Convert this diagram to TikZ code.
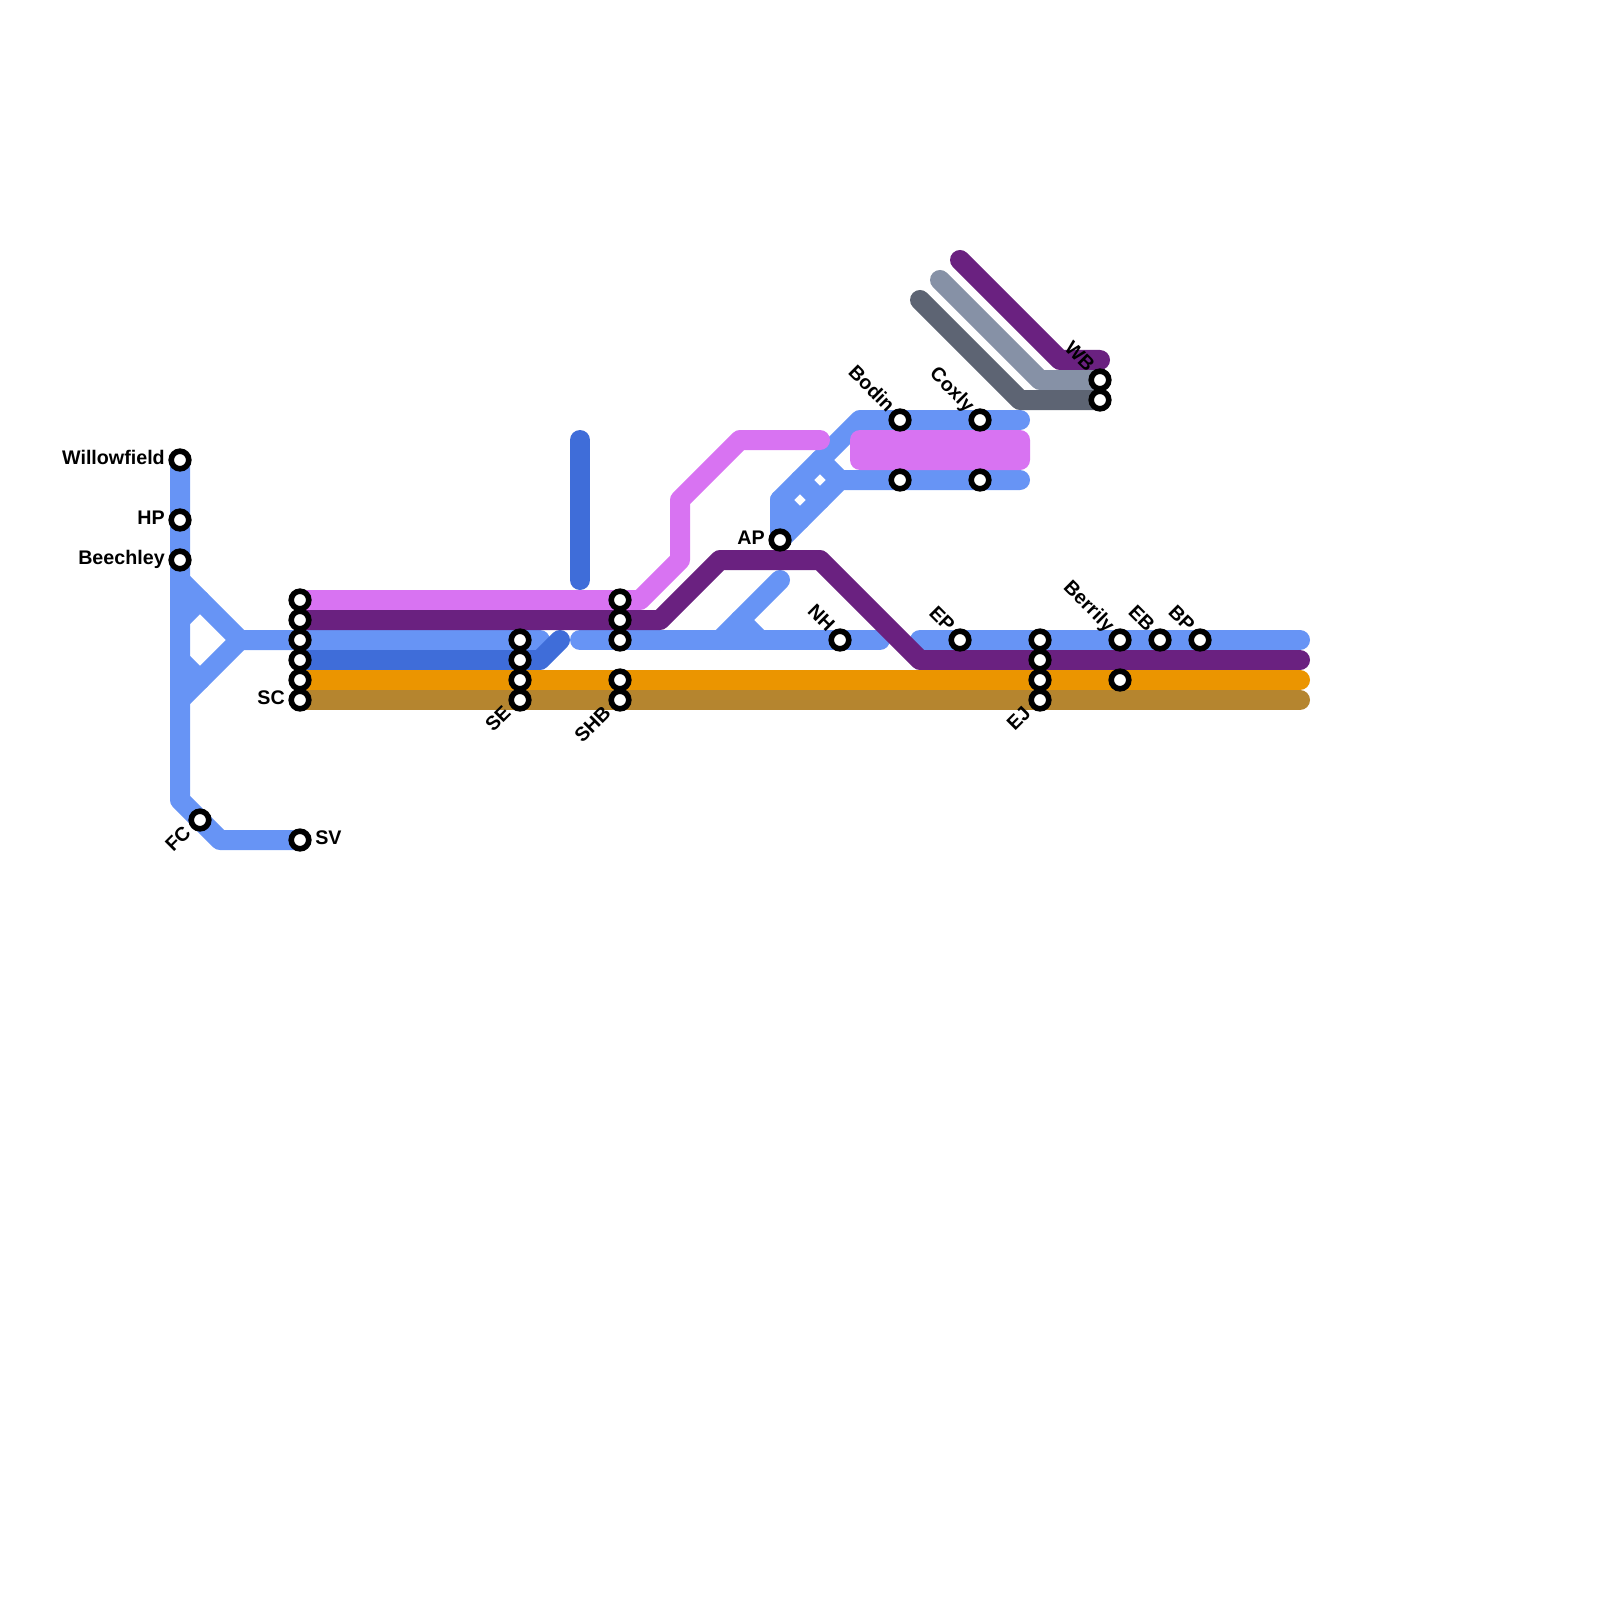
\documentclass[tikz,border=0pt]{standalone}
\usepackage{fontspec}
\setmainfont{Liberation Sans}
\usetikzlibrary{positioning,backgrounds}
\definecolor{lightblue}{HTML}{6794F5}
\definecolor{darkblue}{HTML}{3F6DD9}
\definecolor{pinkline}{HTML}{D873F2}
\definecolor{purpleline}{HTML}{6A2180}
\definecolor{orangeline}{HTML}{EB9500}
\definecolor{brownline}{HTML}{B5852F}
\definecolor{greyline}{HTML}{8691A6}
\definecolor{slateline}{HTML}{5D6473}
\tikzset{
  route/.style={line width=5mm,line cap=round,line join=round},
  station/.style={circle,draw=black,fill=white,line width=1.4mm,minimum size=4.4mm,inner sep=0pt},
  stname/.style={font=\fontsize{14}{16}\selectfont\bfseries,inner sep=0pt,text height=10pt,text depth=3.8pt},
  nameup/.style={stname,anchor=east,rotate=-45},
  namedown/.style={stname,anchor=east,rotate=45}
}
\begin{document}
\begin{tikzpicture}[x=0.25mm,y=-0.25mm]
\useasboundingbox (0,0) rectangle (1600,1600);
% stations
\node[station] (willowfield) at (180,460) {};
\node[station] (hp) at (180,520) {};
\node[station] (beechley) at (180,560) {};
\node[station] (fc) at (200,820) {};
\node[station] (sv) at (300,840) {};
\node[station] (sca) at (300,600) {};
\node[station] (scb) at (300,620) {};
\node[station] (scc) at (300,640) {};
\node[station] (scd) at (300,660) {};
\node[station] (sce) at (300,680) {};
\node[station] (sc) at (300,700) {};
\node[station] (sea) at (520,640) {};
\node[station] (seb) at (520,660) {};
\node[station] (sec) at (520,680) {};
\node[station] (se) at (520,700) {};
\node[station] (shba) at (620,600) {};
\node[station] (shbb) at (620,620) {};
\node[station] (shbc) at (620,640) {};
\node[station] (shbd) at (620,680) {};
\node[station] (shb) at (620,700) {};
\node[station] (ap) at (780,540) {};
\node[station] (nh) at (840,640) {};
\node[station] (bodin) at (900,420) {};
\node[station] (coxly) at (980,420) {};
\node[station] (bodinb) at (900,480) {};
\node[station] (coxlyb) at (980,480) {};
\node[station] (ep) at (960,640) {};
\node[station] (eja) at (1040,640) {};
\node[station] (ejb) at (1040,660) {};
\node[station] (ejc) at (1040,680) {};
\node[station] (ej) at (1040,700) {};
\node[station] (berrily) at (1120,640) {};
\node[station] (berrilyb) at (1120,680) {};
\node[station] (eb) at (1160,640) {};
\node[station] (bp) at (1200,640) {};
\node[station] (wb) at (1100,380) {};
\node[station] (wbb) at (1100,400) {};
% labels
\node[stname,left=0.85mm of willowfield] (willowfieldname) {Willowfield};
\node[stname,left=0.85mm of hp] (hpname) {HP};
\node[stname,left=0.85mm of beechley] (beechleyname) {Beechley};
\node[stname,left=0.85mm of sc] (scname) {SC};
\node[stname,right=0.85mm of sv] (svname) {SV};
\node[stname,left=0.85mm of ap] (apname) {AP};
\node[namedown] (fcname) at ([shift={(-11,11)}]fc.center) {FC};
\node[namedown] (sename) at ([shift={(-11,11)}]se.center) {SE};
\node[namedown] (shbname) at ([shift={(-11,11)}]shb.center) {SHB};
\node[namedown] (ejname) at ([shift={(-11,11)}]ej.center) {EJ};
\node[nameup] (nhname) at ([shift={(-10,-10)}]nh.center) {NH};
\node[nameup] (bodinname) at ([shift={(-10,-10)}]bodin.center) {Bodin};
\node[nameup] (coxlyname) at ([shift={(-10,-10)}]coxly.center) {Coxly};
\node[nameup] (epname) at ([shift={(-10,-10)}]ep.center) {EP};
\node[nameup] (berrilyname) at ([shift={(-10,-10)}]berrily.center) {Berrily};
\node[nameup] (ebname) at ([shift={(-10,-10)}]eb.center) {EB};
\node[nameup] (bpname) at ([shift={(-10,-10)}]bp.center) {BP};
\node[nameup] (wbname) at ([shift={(-10,-10)}]wb.center) {WB};
% lines
\begin{scope}[on background layer]
\draw[route,lightblue] (willowfield.center) -- (180,800) -- (220,840) -- (sv.center);
\draw[route,lightblue] (180,580) -- (240,640) -- (540,640);
\draw[route,lightblue] (180,700) -- (240,640);
\draw[route,lightblue] (180,620) -- (200,600);
\draw[route,lightblue] (180,660) -- (200,680);
\draw[route,lightblue] (580,640) -- (880,640);
\draw[route,lightblue] (720,640) -- (780,580);
\draw[route,lightblue] (740,620) -- (760,640);
\draw[route,lightblue] (920,640) -- (1300,640);
\draw[route,lightblue] (ap.center) -- (780,500) -- (860,420) -- (1020,420);
\draw[route,lightblue] (ap.center) -- (840,480) -- (1020,480);
\draw[route,lightblue] (780,500) -- (800,520);
\draw[route,lightblue] (800,480) -- (820,500);
\draw[route,lightblue] (820,460) -- (840,480);
\draw[route,darkblue] (scd.center) -- (540,660) -- (560,640);
\draw[route,darkblue] (580,440) -- (580,580);
\draw[route,pinkline] (sca.center) -- (640,600) -- (680,560) -- (680,500) -- (740,440) -- (820,440);
\fill[pinkline,rounded corners=2.5mm] (850,430) rectangle (1030,470);
\draw[route,purpleline] (scb.center) -- (660,620) -- (720,560) -- (820,560) -- (920,660) -- (1300,660);
\draw[route,purpleline] (960,260) -- (1060,360) -- (1100,360);
\draw[route,greyline] (940,280) -- (1040,380) -- (wb.center);
\draw[route,slateline] (920,300) -- (1020,400) -- (wbb.center);
\draw[route,orangeline] (sce.center) -- (1300,680);
\draw[route,brownline] (sc.center) -- (1300,700);
\end{scope}
\end{tikzpicture}
\end{document}
